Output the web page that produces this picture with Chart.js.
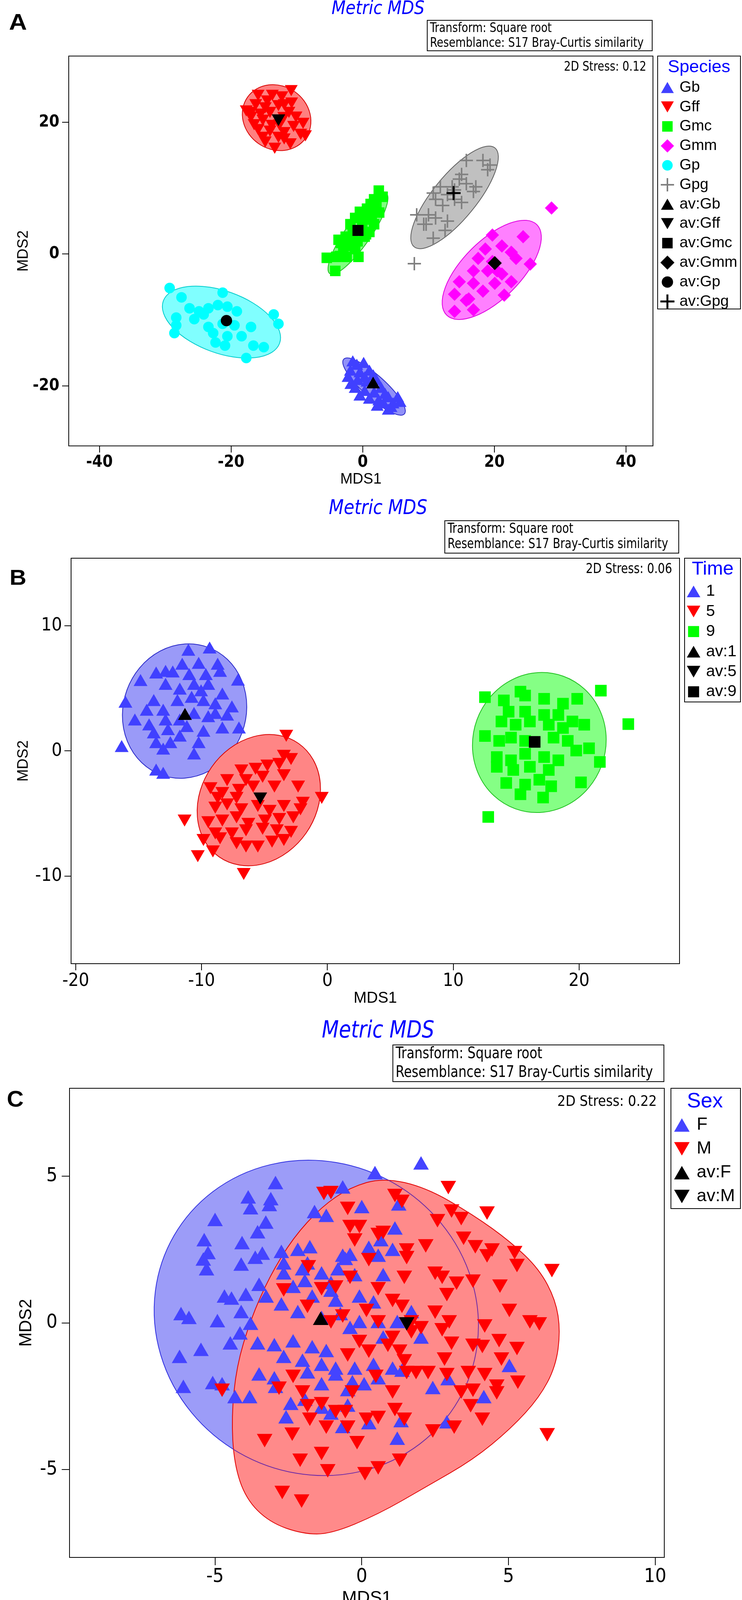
<!DOCTYPE html>
<html lang="en">
<head>
<meta charset="UTF-8">
<title>Metric MDS</title>
<style>
  html, body { margin: 0; padding: 0; background: #ffffff; }
  #page { position: relative; width: 1900px; height: 4114px; overflow: hidden; background: #ffffff; }
  canvas { position: absolute; left: 0; }
</style>
</head>
<body>
<div id="page">
  <canvas id="chartA" width="1900" height="1250" style="top:0px;width:1900px;height:1250px"></canvas>
  <canvas id="chartB" width="1900" height="1330" style="top:1250px;width:1900px;height:1330px"></canvas>
  <canvas id="chartC" width="1900" height="1530" style="top:2590px;width:1900px;height:1530px"></canvas>
</div>
<script src="https://cdn.jsdelivr.net/npm/chart.js@4.4.1/dist/chart.umd.min.js"></script>
<script>
// ---- panel A : species ----
const speciesA = ['Gb', 'Gff', 'Gmc', 'Gmm', 'Gp', 'Gpg'];
const xTicksA = [-40, -20, 0, 20, 40];
const yTicksA = [-20, 0, 20];
const gbA = [[-1.51,-16.48],[0.14,-16.71],[-1.87,-17.89],[-0.43,-18.13],[1.01,-17.89],[-2.23,-18.84],[-0.79,-19.31],[0.65,-19.55],[2.08,-19.31],[-1.15,-20.49],[0.29,-20.96],[1.73,-21.2],[2.8,-20.49],[1.01,-22.14],[2.44,-22.38],[3.88,-21.91],[5.32,-21.91],[4.6,-22.85],[5.68,-22.62],[3.88,-23.8],[3.16,-22.85],[-0.43,-21.67],[-0.9,-17.0],[1.6,-18.6],[-1.8,-19.9],[3.4,-21.4],[2.2,-23.2],[4.3,-23.4],[0.3,-18.9]];
const gffA = [[-10.86,25.07],[-15.89,24.36],[-13.73,24.36],[-12.29,24.13],[-17.69,22.0],[-16.25,22.95],[-14.81,22.47],[-11.93,22.95],[-11.21,21.77],[-10.14,21.06],[-16.97,21.06],[-15.17,20.59],[-9.06,20.11],[-10.5,19.64],[-15.89,19.17],[-14.09,18.93],[-11.93,18.7],[-9.42,18.46],[-14.81,17.28],[-13.37,16.34],[-11.93,17.75],[-8.7,18.22],[-16.97,21.77],[-14.09,21.77],[-12.65,19.88],[-14.5,23.5],[-12.8,22.8],[-15.5,21.5],[-12.0,21.0],[-10.8,23.2],[-13.8,19.8],[-16.5,19.9],[-11.0,17.0],[-12.8,18.0],[-15.2,18.0]];
const gmcA = [[2.44,9.63],[3.02,8.69],[1.73,8.31],[2.08,7.37],[0.65,6.89],[-0.43,6.42],[1.37,5.95],[0.29,5.24],[-1.15,5.48],[-1.87,4.53],[-0.07,4.3],[1.73,4.53],[-1.51,3.35],[-2.59,2.64],[0.29,2.64],[-0.79,1.94],[-2.23,1.23],[-3.31,1.7],[-1.15,0.76],[-5.46,-0.57],[-4.03,-0.42],[-2.44,-0.42],[-0.65,-0.42],[-4.17,-2.55],[1.01,3.35],[-3.67,2.17],[-2.95,0.76],[1.2,7.6],[0.1,5.9],[2.5,6.3],[-1.9,2.0],[-3.5,-0.3],[0.5,3.0]];
const gmmA = [[28.68,6.99],[19.7,2.88],[24.37,2.64],[18.62,0.76],[21.14,1.23],[22.57,0.28],[17.54,-0.66],[19.7,-1.13],[23.29,-0.66],[25.45,-1.51],[16.82,-2.55],[18.98,-2.55],[21.14,-3.02],[22.57,-4.2],[14.67,-4.2],[16.82,-4.44],[20.06,-4.44],[18.26,-5.62],[13.95,-6.09],[16.1,-6.8],[21.5,-6.23],[16.82,-8.45],[13.95,-8.69],[15.74,-7.03],[20.42,-2.55]];
const gpA = [[-29.33,-5.15],[-27.53,-6.56],[-21.28,-5.85],[-26.31,-8.22],[-24.87,-8.69],[-23.44,-8.22],[-22.0,-7.74],[-20.56,-7.98],[-19.12,-8.69],[-25.59,-9.87],[-23.44,-11.05],[-21.28,-10.58],[-19.48,-10.81],[-16.97,-11.05],[-28.33,-9.63],[-28.33,-10.81],[-28.61,-11.99],[-22.72,-11.99],[-20.56,-12.46],[-18.4,-12.46],[-22.36,-13.41],[-20.92,-13.88],[-16.61,-13.88],[-15.03,-14.12],[-17.69,-15.77],[-13.52,-9.16],[-12.8,-10.58],[-24.16,-9.16]];
const gpgA = [[15.74,14.21],[18.26,14.21],[19.34,13.5],[18.98,12.8],[15.02,12.09],[14.67,11.38],[15.74,10.67],[17.18,10.2],[16.82,9.49],[11.79,10.2],[10.71,9.25],[12.87,9.02],[13.95,8.31],[15.02,7.84],[12.15,7.37],[9.99,5.95],[11.07,5.48],[12.87,5.0],[9.63,4.53],[12.51,3.59],[10.71,2.41],[13.59,10.2],[11.07,8.31],[13.95,9.73],[8.2,5.95],[9.27,4.53],[7.84,-1.46]];
const avA = [[1.58,-19.78],[-12.8,20.6],[-0.72,3.59],[20.06,-1.37],[-20.7,-10.1],[13.8,9.25]];
// ellipses: centre x, centre y, semi-major, semi-minor, angle (deg)
const ellA = [[1.72,-20.1,6.2,1.7,-42],[-13.08,20.7,5.4,4.8,145],[-0.72,3.12,7.45,1.9,55],[19.6,-2.4,9.7,4.4,45],[-21.46,-10.32,9.4,4.7,-20],[13.95,8.6,9.7,3.3,50.7]];

// ---- panel B : time ----
const timeB = ['1', '5', '9'];
const xTicksB = [-20, -10, 0, 10, 20];
const yTicksB = [-10, 0, 10];
const t1B = [[-11.05,7.91],[-9.36,8.09],[-10.23,6.87],[-8.72,6.8],[-11.54,6.8],[-12.86,6.23],[-12.29,6.18],[-13.61,6.1],[-14.85,5.5],[-10.98,5.97],[-9.66,5.97],[-8.53,6.23],[-7.11,5.53],[-10.6,5.19],[-9.47,5.19],[-8.35,4.42],[-11.73,4.81],[-12.86,5.19],[-13.8,3.9],[-16.05,3.77],[-15.3,2.35],[-14.36,3.13],[-13.05,3.13],[-11.92,3.9],[-10.79,4.16],[-9.85,3.9],[-7.59,3.39],[-8.91,2.87],[-7.97,2.74],[-10.6,2.87],[-9.47,2.61],[-11.73,2.35],[-12.86,2.35],[-14.17,1.96],[-13.8,1.32],[-12.67,1.58],[-11.17,1.83],[-9.85,1.45],[-8.35,1.71],[-7.03,1.71],[-10.23,0.54],[-10.6,-0.36],[-13.61,0.54],[-12.48,0.54],[-11.73,1.06],[-13.05,0.03],[-16.35,0.23],[-13.61,-1.65],[-13.05,-1.91],[-10.04,4.68],[-8.91,3.64]];
const t5B = [[-3.27,1.37],[-3.46,-0.23],[-2.89,-0.49],[-4.77,-1.01],[-3.83,-0.88],[-6.84,-1.4],[-5.71,-1.27],[-7.97,-2.17],[-6.47,-2.17],[-5.15,-1.91],[-3.46,-1.78],[-9.29,-2.82],[-8.35,-3.2],[-7.03,-2.95],[-5.9,-2.69],[-4.21,-2.69],[-2.33,-2.69],[-0.45,-3.59],[-8.91,-4.37],[-7.97,-4.11],[-6.84,-4.5],[-5.53,-4.24],[-4.59,-4.63],[-3.46,-4.24],[-2.14,-4.5],[-9.47,-5.53],[-8.35,-5.4],[-7.22,-5.14],[-6.28,-5.66],[-4.96,-5.4],[-3.83,-5.27],[-2.71,-5.14],[-11.35,-5.4],[-8.91,-6.43],[-7.59,-6.43],[-6.47,-6.18],[-5.15,-6.05],[-4.02,-6.18],[-2.89,-6.3],[-9.85,-6.95],[-8.53,-6.82],[-7.22,-7.21],[-5.53,-7.47],[-4.4,-7.08],[-3.46,-6.95],[-9.1,-7.86],[-6.47,-7.47],[-10.3,-8.24],[-6.65,-9.66],[-1.95,-3.98],[-7.22,-3.59],[-8.72,-3.59]];
const t9B = [[12.52,4.29],[21.73,4.81],[15.34,4.73],[14.02,4.03],[15.71,4.42],[17.22,4.16],[18.72,3.77],[19.85,4.16],[14.4,3.13],[15.71,3.13],[17.22,2.87],[18.35,2.87],[19.47,2.35],[20.41,2.09],[23.91,2.14],[13.83,2.35],[14.96,2.09],[16.09,2.35],[17.59,2.09],[18.72,1.83],[12.52,1.19],[13.65,0.8],[14.59,1.06],[15.71,0.8],[17.97,1.06],[19.1,0.8],[20.79,0.21],[19.77,0.03],[13.46,-0.49],[14.59,-0.75],[15.71,-0.23],[17.22,-0.49],[18.35,-0.75],[13.46,-1.27],[14.77,-1.52],[16.09,-1.27],[17.59,-1.52],[21.65,-0.88],[14.21,-2.56],[15.71,-2.69],[16.84,-2.3],[17.78,-2.82],[15.34,-3.46],[17.14,-3.72],[20.15,-2.51],[12.78,-5.27]];
const avB = [[-11.32,2.79],[-5.34,-3.64],[16.47,0.72]];
const ellB = [[-11.35,3.18,5.4,4.9,70],[-5.45,-3.93,5.5,4.6,55],[16.84,0.67,5.6,5.3,70]];

// ---- panel C : sex ----
const sexC = ['F', 'M'];
const xTicksC = [-5, 0, 5, 10];
const yTicksC = [-5, 0, 5];
const femC = [[-2.94,4.71],[-3.87,4.22],[-3.1,4.16],[-3.79,3.85],[-3.15,3.96],[-5.0,3.45],[-3.27,3.36],[-3.55,3.03],[-5.37,2.76],[-4.08,2.66],[-5.24,2.32],[-5.4,2.1],[-5.29,1.77],[-4.11,1.93],[-3.63,2.16],[-3.39,2.3],[-2.74,2.36],[-2.66,1.97],[-2.18,2.43],[-1.77,2.52],[-1.61,3.72],[-1.21,3.59],[-0.65,4.56],[0.0,3.89],[0.45,5.05],[2.02,5.38],[1.26,3.98],[1.13,3.16],[0.65,2.76],[1.05,2.43],[0.56,2.23],[-0.4,2.26],[-0.56,2.12],[-0.81,1.77],[-1.37,1.63],[-2.02,1.77],[-1.94,1.37],[-2.34,1.17],[-3.5,1.24],[-3.26,0.84],[-3.95,0.9],[-4.68,0.84],[-4.44,0.77],[-4.11,0.31],[-6.16,0.24],[-5.89,0.11],[-4.92,0.0],[-3.79,-0.09],[-2.74,0.57],[-2.18,0.31],[-0.89,0.7],[-0.08,0.84],[0.4,0.64],[-0.73,0.24],[-1.37,0.11],[-0.08,-0.03],[0.56,-0.03],[1.21,-0.03],[1.69,0.31],[2.02,-0.56],[0.73,-0.56],[-0.4,-0.23],[-4.15,-0.42],[-4.48,-0.76],[-5.48,-0.98],[-6.21,-1.22],[-3.55,-0.76],[-2.98,-0.82],[-2.34,-0.69],[-1.69,-0.89],[-1.21,-1.02],[-2.66,-1.22],[-2.02,-1.35],[-1.37,-1.49],[-0.89,-1.62],[-0.24,-1.62],[0.4,-1.49],[1.05,-1.62],[1.37,-1.69],[-3.5,-1.82],[-2.98,-1.95],[-1.85,-1.75],[-1.37,-2.15],[-0.89,-1.82],[-0.32,-2.08],[0.08,-2.15],[0.56,-1.95],[-5.08,-2.11],[-6.08,-2.24],[-4.76,-2.15],[-4.32,-2.59],[-3.82,-2.59],[-2.94,-2.24],[-2.42,-2.82],[-1.94,-2.68],[-1.37,-2.95],[-1.05,-3.15],[-0.48,-2.35],[-0.48,-2.88],[0.24,-3.48],[-2.58,-3.28],[-0.65,-3.61],[1.21,-4.01],[1.34,-3.41],[2.42,-2.28],[2.94,-1.98],[4.16,-2.59],[5.03,-1.53],[2.9,-3.45],[-1.69,0.84],[-1.05,1.04],[-0.24,1.57],[0.24,2.5],[-0.65,2.23],[-2.66,1.63],[-1.85,1.97],[-1.05,1.3],[0.73,1.57]];
const malC = [[2.95,4.69],[4.27,3.82],[-1.29,4.49],[-1.05,4.52],[-0.48,3.98],[1.13,4.42],[1.37,4.22],[3.06,3.89],[3.39,3.63],[2.58,3.56],[-0.4,3.36],[-0.08,3.36],[-0.24,2.9],[0.56,3.09],[0.73,3.16],[3.47,2.96],[3.87,2.67],[4.44,2.56],[4.27,2.36],[5.21,2.47],[5.29,2.03],[6.48,1.86],[2.18,2.7],[1.53,2.56],[1.53,2.3],[0.24,2.23],[-1.82,1.99],[-1.37,1.24],[-2.66,1.2],[-1.85,0.64],[-0.4,1.63],[-0.89,1.3],[1.45,1.63],[2.5,1.77],[2.74,1.63],[3.23,1.43],[3.79,1.5],[2.9,1.04],[4.71,1.33],[0.56,1.24],[1.05,0.84],[1.37,0.64],[0.16,0.5],[0.56,0.11],[1.69,0.11],[2.5,0.44],[2.98,0.11],[5.03,0.5],[5.73,0.11],[6.05,0.04],[4.19,-0.03],[-1.05,0.11],[-0.65,0.31],[-0.08,-0.56],[1.05,-0.42],[1.69,-0.23],[2.02,-0.09],[2.74,-0.16],[3.06,-0.62],[4.68,-0.53],[3.79,-0.69],[4.11,-0.73],[5.29,-0.8],[-0.48,-1.02],[0.24,-0.89],[0.89,-0.69],[1.29,-0.89],[1.45,-1.22],[1.85,-1.62],[2.82,-1.16],[4.76,-1.16],[0.48,-1.75],[1.05,-2.28],[1.53,-1.62],[2.26,-1.62],[2.9,-1.69],[3.63,-1.62],[4.19,-1.69],[5.32,-1.95],[4.6,-2.08],[3.79,-2.22],[4.6,-2.31],[3.39,-2.28],[3.71,-2.75],[4.11,-3.21],[3.15,-3.48],[2.42,-3.61],[1.45,-3.21],[1.13,-2.88],[0.56,-3.15],[0.16,-3.21],[-0.32,-2.28],[-0.89,-2.95],[-1.37,-2.68],[-1.85,-2.75],[-0.48,-3.48],[-2.34,-1.75],[-4.76,-2.22],[-3.31,-3.94],[-2.37,-3.72],[-1.37,-4.38],[-2.1,-4.61],[-1.16,-4.97],[-0.16,-4.01],[0.56,-4.87],[1.29,-4.61],[0.11,-5.07],[-2.71,-5.71],[-2.05,-6.0],[6.32,-3.74],[-1.21,-3.48],[-0.56,-2.95],[-2.82,-2.15],[-2.02,-2.28],[-1.77,-3.21]];
const avC = [[-1.4,0.08],[1.53,0.04]];
const ellC = [[-1.55,0.17,5.6,5.3,-30]];
const blobM = [[0.73,4.95],[2.18,4.62],[3.79,3.69],[5.08,2.76],[6.05,1.83],[6.61,0.77],[6.77,-0.29],[6.61,-1.49],[6.05,-2.55],[5.08,-3.61],[3.79,-4.67],[2.18,-5.6],[0.56,-6.53],[-1.05,-7.2],[-2.02,-7.2],[-3.15,-6.8],[-3.95,-6.0],[-4.35,-4.81],[-4.44,-3.21],[-4.27,-1.49],[-3.79,0.11],[-3.15,1.57],[-2.34,2.9],[-1.37,3.96],[-0.4,4.62]];

// ---------------------------------------------------------------------------
function pickNarrow() {
  const c = document.createElement('canvas').getContext('2d');
  const probe = 'Resemblance: S17 Bray-Curtis 0.12';
  c.font = '40px monospace';
  const w0 = c.measureText(probe).width;
  for (const f of ['Liberation Sans Narrow', 'Arial Narrow', 'DejaVu Sans Condensed']) {
    c.font = `40px '${f}', monospace`;
    if (Math.abs(c.measureText(probe).width - w0) > 1) return { family: `'${f}', 'Liberation Sans', sans-serif`, k: 1 };
  }
  return { family: "'Liberation Sans', Arial, sans-serif", k: 0.84 };
}
const NARROW = pickNarrow();
const WIDE = "'Liberation Sans', Arial, sans-serif";

const pts = arr => arr.map(([x, y]) => ({ x, y }));

function series(label, data, style, rot, color, r, order) {
  return {
    label, data: pts(data), showLine: false, order,
    pointStyle: style, pointRotation: rot, pointRadius: r, pointHoverRadius: r,
    pointBackgroundColor: color, pointBorderColor: color,
    pointBorderWidth: style === 'cross' ? 4 : 0
  };
}

function drawMarker(ctx, style, x, y, r, rot, color, lw) {
  ctx.save();
  ctx.fillStyle = color; ctx.strokeStyle = color; ctx.lineWidth = lw || 4;
  ctx.translate(x, y); ctx.rotate((rot || 0) * Math.PI / 180);
  ctx.beginPath();
  if (style === 'triangle') {
    for (let i = 0; i < 3; i++) {
      const a = i * 2 * Math.PI / 3;
      if (i) ctx.lineTo(Math.sin(a) * r, -Math.cos(a) * r); else ctx.moveTo(0, -r);
    }
    ctx.closePath(); ctx.fill();
  } else if (style === 'rect') {
    const s = r * Math.SQRT1_2; ctx.rect(-s, -s, 2 * s, 2 * s); ctx.fill();
  } else if (style === 'rectRot') {
    ctx.moveTo(-r, 0); ctx.lineTo(0, -r); ctx.lineTo(r, 0); ctx.lineTo(0, r); ctx.closePath(); ctx.fill();
  } else if (style === 'circle') {
    ctx.arc(0, 0, r, 0, 2 * Math.PI); ctx.fill();
  } else if (style === 'cross') {
    ctx.moveTo(0, -r); ctx.lineTo(0, r); ctx.moveTo(-r, 0); ctx.lineTo(r, 0); ctx.stroke();
  }
  ctx.restore();
}

function text(ctx, str, x, y, size, o) {
  ctx.save();
  ctx.font = `${o.style || 'normal'} ${o.weight || 'normal'} ${size}px ${o.family || NARROW.family}`;
  ctx.fillStyle = o.color || '#000';
  ctx.textBaseline = 'middle';
  ctx.textAlign = o.align || 'left';
  const sx = o.width ? o.width / ctx.measureText(str).width : (o.sx || 1);
  ctx.translate(x, y); ctx.scale(sx, 1);
  ctx.fillText(str, 0, 0);
  ctx.restore();
  return sx;
}

function squeezeFor(str, size, target, family) {
  const c = document.createElement('canvas').getContext('2d');
  c.font = `${size}px ${family || NARROW.family}`;
  return target / c.measureText(str).width;
}

function ellipsePath(ctx, xs, ys, e) {
  const [cx, cy, a, b, deg] = e;
  const kx = Math.abs(xs.getPixelForValue(1) - xs.getPixelForValue(0));
  const ky = Math.abs(ys.getPixelForValue(1) - ys.getPixelForValue(0));
  ctx.beginPath();
  ctx.ellipse(xs.getPixelForValue(cx), ys.getPixelForValue(cy), a * kx, b * ky, -deg * Math.PI / 180, 0, 2 * Math.PI);
}

function blobPath(ctx, xs, ys, list) {
  const p = list.map(([x, y]) => [xs.getPixelForValue(x), ys.getPixelForValue(y)]);
  const n = p.length;
  const mid = i => [(p[i % n][0] + p[(i + 1) % n][0]) / 2, (p[i % n][1] + p[(i + 1) % n][1]) / 2];
  ctx.beginPath();
  const m0 = mid(n - 1);
  ctx.moveTo(m0[0], m0[1]);
  for (let i = 0; i < n; i++) {
    const m = mid(i);
    ctx.quadraticCurveTo(p[i][0], p[i][1], m[0], m[1]);
  }
  ctx.closePath();
}

const PANELS = {};

const panelPlugin = {
  id: 'panelExtras',
  beforeDatasetsDraw(chart) {
    const P = PANELS[chart.canvas.id];
    const { ctx, chartArea: ca } = chart;
    const xs = chart.scales.x, ys = chart.scales.y;
    ctx.save();
    ctx.beginPath(); ctx.rect(ca.left, ca.top, ca.right - ca.left, ca.bottom - ca.top); ctx.clip();
    P.shapes.forEach(sh => {
      const path = () => sh.blob ? blobPath(ctx, xs, ys, sh.blob) : ellipsePath(ctx, xs, ys, sh.ell);
      ctx.save();
      if (sh.clipBlob) { blobPath(ctx, xs, ys, sh.clipBlob); ctx.clip(); }
      path();
      if (sh.fill) { ctx.fillStyle = sh.fill; ctx.fill(); }
      if (sh.stroke) { ctx.strokeStyle = sh.stroke; ctx.lineWidth = sh.lw || 2; ctx.stroke(); }
      ctx.restore();
    });
    ctx.restore();
  },
  afterDraw(chart) {
    const P = PANELS[chart.canvas.id];
    const { ctx, chartArea: ca } = chart;
    ctx.save();
    ctx.strokeStyle = '#000'; ctx.lineWidth = 2;
    ctx.strokeRect(ca.left, ca.top, ca.right - ca.left, ca.bottom - ca.top);
    ctx.restore();

    // title, panel letter
    text(ctx, 'Metric MDS', P.title.x, P.title.y, P.title.size, { style: 'italic', color: '#0000ff', align: 'center', width: P.title.w });
    text(ctx, P.letter.t, P.letter.x, P.letter.y, P.letter.size, { weight: 'bold', align: 'center', width: P.letter.w, family: WIDE });

    // transform / resemblance box
    const T = P.trans;
    ctx.save(); ctx.strokeStyle = '#000'; ctx.lineWidth = 2; ctx.strokeRect(T.x, T.y, T.w, T.h); ctx.restore();
    const sxT = squeezeFor('Resemblance: S17 Bray-Curtis similarity', T.size, T.tw);
    text(ctx, 'Transform: Square root', T.tx, T.y1, T.size, { sx: sxT });
    text(ctx, 'Resemblance: S17 Bray-Curtis similarity', T.tx, T.y2, T.size, { sx: sxT });

    // stress
    text(ctx, P.stress.t, P.stress.x, P.stress.y, P.stress.size, { align: 'right', width: P.stress.w });

    // legend
    const L = P.legend;
    ctx.save(); ctx.strokeStyle = '#000'; ctx.lineWidth = 2; ctx.strokeRect(L.x, L.y, L.w, L.h); ctx.restore();
    text(ctx, L.title, L.tcx, L.ty, L.tsize, { align: 'center', color: '#0000ff', width: L.tw, family: WIDE });
    const sxL = squeezeFor(L.widest, L.size, L.ww, WIDE);
    chart.data.datasets.forEach((ds, i) => {
      const y = L.y0 + i * L.dy;
      const r = Math.min(ds.pointRadius, L.r);
      const dy = ds.pointStyle === 'triangle' ? (ds.pointRotation ? -r * 0.25 : r * 0.25) : 0;
      drawMarker(ctx, ds.pointStyle, L.mx, y + dy, r, ds.pointRotation, ds.pointBackgroundColor, ds.pointBorderWidth || 4);
      text(ctx, ds.label, L.lx, y, L.size, { sx: sxL, family: WIDE });
    });
  }
};

function makeChart(id, P, datasets) {
  PANELS[id] = P;
  const tickFont = { family: NARROW.family, size: Math.round(P.tickSize * NARROW.k), weight: P.tickWeight || 'normal' };
  const axisTitle = (txt, size, pad) => ({
    display: true, text: txt, color: '#000',
    font: { family: WIDE, size, lineHeight: 1.2 }, padding: pad
  });
  return new Chart(document.getElementById(id), {
    type: 'scatter',
    data: { datasets },
    options: {
      responsive: false, animation: false, devicePixelRatio: 1,
      layout: { padding: { left: 0, right: P.right, top: P.top, bottom: 0 } },
      plugins: { legend: { display: false }, tooltip: { enabled: false }, title: { display: false } },
      scales: {
        x: {
          type: 'linear', min: P.xr[0], max: P.xr[1],
          afterFit: s => { s.height = P.xh; },
          afterBuildTicks: s => { s.ticks = P.xt.map(v => ({ value: v })); },
          grid: { drawOnChartArea: false, drawTicks: true, tickLength: P.tl, color: '#000', lineWidth: 2 },
          border: { display: false },
          ticks: { font: tickFont, color: '#000', padding: P.xpad, maxRotation: 0, autoSkip: false },
          title: axisTitle('MDS1', P.xTitleSize, { top: 0, bottom: 0 })
        },
        y: {
          type: 'linear', min: P.yr[0], max: P.yr[1],
          afterFit: s => { s.width = P.yw; },
          afterBuildTicks: s => { s.ticks = P.yt.map(v => ({ value: v })); },
          grid: { drawOnChartArea: false, drawTicks: true, tickLength: P.tl, color: '#000', lineWidth: 2 },
          border: { display: false },
          ticks: { font: tickFont, color: '#000', padding: P.ypad, autoSkip: false },
          title: axisTitle('MDS2', P.yTitleSize, { top: P.yTitlePad, bottom: 0 })
        }
      }
    },
    plugins: [panelPlugin]
  });
}

// ---- panel A ----
const colA = ['#4040ff', '#ff0000', '#00ff00', '#ff00ff', '#00ffff', '#808080'];
const styleA = [['triangle', 0, 19], ['triangle', 180, 19], ['rect', 0, 19], ['rectRot', 0, 17], ['circle', 0, 13.5], ['cross', 0, 17]];
const fillA = ['#9090f8', '#ff8080', '#80ff80', '#ff80ff', '#80ffff', '#c0c0c0'];
const lineA = ['#2828c8', '#d80000', '#20c020', '#e000e0', '#00cccc', '#606060'];
const memA = [gbA, gffA, gmcA, gmmA, gpA, gpgA];
const dsA = speciesA.map((s, i) => series(s, memA[i], styleA[i][0], styleA[i][1], colA[i], styleA[i][2], 2))
  .concat(speciesA.map((s, i) => {
    const d = series('av:' + s, [avA[i]], styleA[i][0], styleA[i][1], '#000000', styleA[i][2] + 1, 0);
    if (styleA[i][0] === 'cross') d.pointBorderWidth = 5;
    return d;
  }));
makeChart('chartA', {
  top: 143.5, right: 228, yw: 176, xh: 108.5,
  xr: [-44.66, 44.09], yr: [-29.1, 30.04], xt: xTicksA, yt: yTicksA,
  tl: 17, xpad: 0, ypad: 7, tickSize: 42, tickWeight: 'bold',
  xTitleSize: 38, yTitleSize: 38, yTitlePad: 38,
  shapes: ellA.map((e, i) => ({ ell: e, fill: fillA[i], stroke: lineA[i], lw: 2 })),
  title: { x: 968, y: 24, size: 48, w: 238 },
  letter: { t: 'A', x: 46, y: 60, size: 58, w: 46 },
  trans: { x: 1094, y: 52, w: 576, h: 78, tx: 1101, y1: 73, y2: 111, size: 34, tw: 547 },
  stress: { t: '2D Stress: 0.12', x: 1655, y: 172, size: 34, w: 211 },
  legend: { x: 1684, y: 143.5, w: 212, h: 647.5, title: 'Species', tcx: 1790, ty: 173, tsize: 45, tw: 160,
            y0: 224, dy: 49.8, mx: 1709, lx: 1740, size: 39, widest: 'av:Gmm', ww: 148, r: 19 }
}, dsA);

// ---- panel B ----
const colB = ['#4040ff', '#ff0000', '#00ff00'];
const styleB = [['triangle', 0, 20.5], ['triangle', 180, 20.5], ['rect', 0, 21]];
const fillB = ['#9a9af8', '#ff8585', '#85ff85'];
const lineB = ['#2828c8', '#d80000', '#20c020'];
const memB = [t1B, t5B, t9B];
const dsB = timeB.map((s, i) => series(s, memB[i], styleB[i][0], styleB[i][1], colB[i], styleB[i][2], 2))
  .concat(timeB.map((s, i) => series('av:' + s, [avB[i]], styleB[i][0], styleB[i][1], '#000000', styleB[i][2], 0)));
makeChart('chartB', {
  top: 179, right: 160, yw: 182, xh: 113,
  xr: [-20.37, 27.98], yr: [-16.98, 15.38], xt: xTicksB, yt: yTicksB,
  tl: 17, xpad: 0, ypad: 6, tickSize: 47,
  xTitleSize: 40, yTitleSize: 38, yTitlePad: 38,
  shapes: ellB.map((e, i) => ({ ell: e, fill: fillB[i], stroke: lineB[i], lw: 2 })),
  title: { x: 968, y: 52, size: 52, w: 252 },
  letter: { t: 'B', x: 46, y: 232, size: 56, w: 43 },
  trans: { x: 1139, y: 83, w: 599, h: 83, tx: 1146, y1: 105, y2: 144, size: 36, tw: 565 },
  stress: { t: '2D Stress: 0.06', x: 1721, y: 208, size: 36, w: 221 },
  legend: { x: 1753, y: 179, w: 143, h: 368, title: 'Time', tcx: 1825, ty: 208, tsize: 48, tw: 107,
            y0: 264, dy: 51.4, mx: 1776, lx: 1808, size: 41, widest: 'av:9', ww: 78, r: 20 }
}, dsB);

// ---- panel C ----
const dsC = [
  series('F', femC, 'triangle', 0, '#4444ff', 23, 3),
  series('M', malC, 'triangle', 180, '#ff0000', 23, 2),
  series('av:F', [avC[0]], 'triangle', 0, '#000000', 23, 0),
  series('av:M', [avC[1]], 'triangle', 180, '#000000', 23, 0)
];
makeChart('chartC', {
  top: 196, right: 199, yw: 178, xh: 133,
  xr: [-9.96, 10.31], yr: [-8.0, 8.0], xt: xTicksC, yt: yTicksC,
  tl: 20, xpad: 0, ypad: 11, tickSize: 50,
  xTitleSize: 46, yTitleSize: 44, yTitlePad: 41,
  shapes: [
    { ell: ellC[0], fill: '#9c9cf8', stroke: '#3030e0', lw: 2 },
    { blob: blobM, fill: '#ff8a8a', stroke: '#e00000', lw: 2 },
    { ell: ellC[0], stroke: 'rgba(90,30,170,0.9)', lw: 2, clipBlob: blobM }
  ],
  title: { x: 968, y: 50, size: 60, w: 288 },
  letter: { t: 'C', x: 39, y: 227, size: 58, w: 43 },
  trans: { x: 1006, y: 85, w: 694, h: 94, tx: 1013, y1: 109, y2: 157, size: 40, tw: 659 },
  stress: { t: '2D Stress: 0.22', x: 1682, y: 231, size: 38, w: 255 },
  legend: { x: 1718, y: 196, w: 178, h: 308, title: 'Sex', tcx: 1805, ty: 230, tsize: 53, tw: 92,
            y0: 290, dy: 61, mx: 1746, lx: 1784, size: 44, widest: 'av:M', ww: 98, r: 23 }
}, dsC);
</script>
</body>
</html>
